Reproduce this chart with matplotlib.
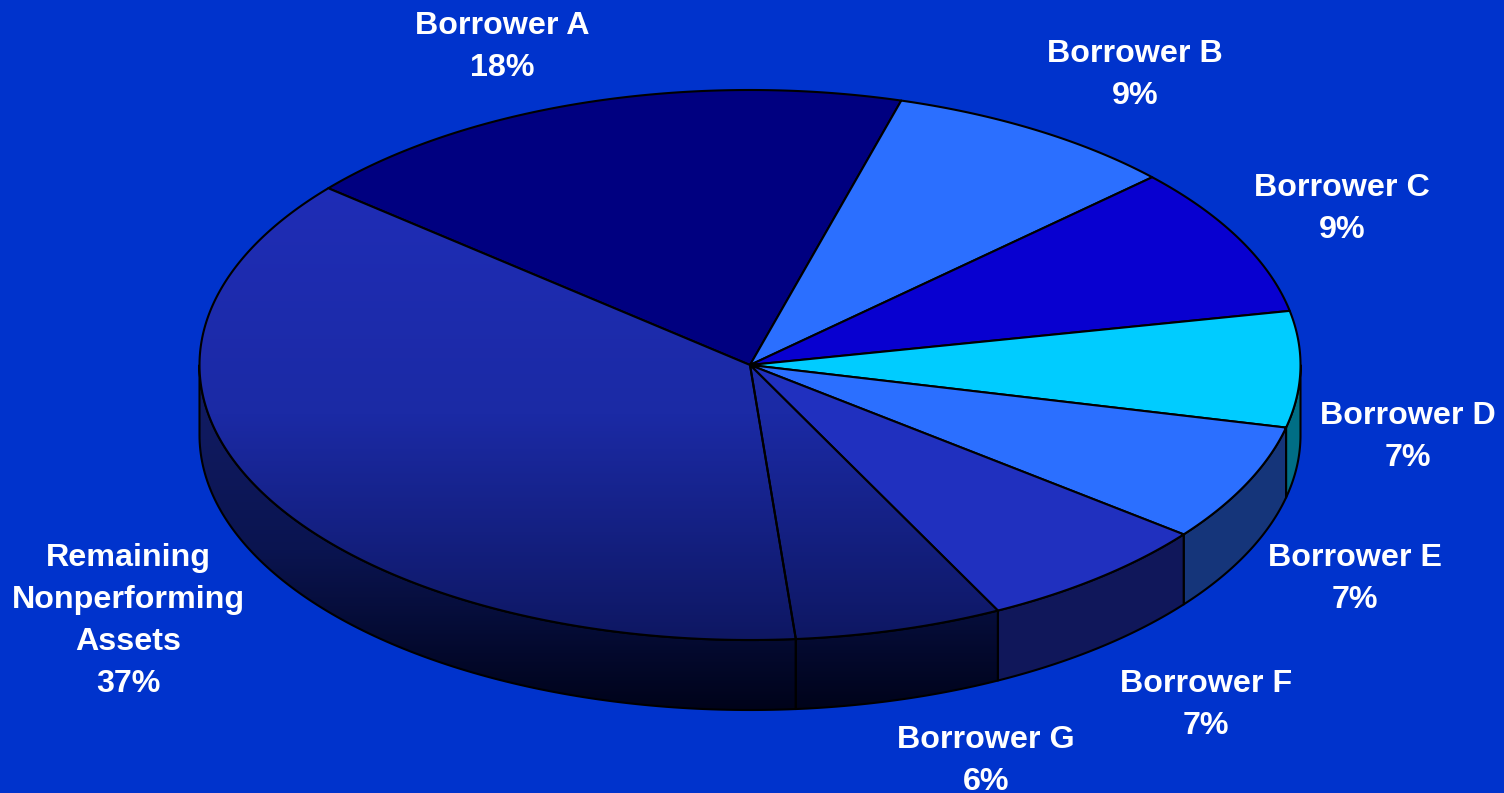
import numpy as np
import matplotlib
matplotlib.use("Agg")
import matplotlib.pyplot as plt
from matplotlib.colors import LinearSegmentedColormap
from matplotlib.patches import Polygon

# Share of nonperforming assets by borrower, clockwise from the upper left
names = ["Borrower A", "Borrower B", "Borrower C", "Borrower D",
         "Borrower E", "Borrower F", "Borrower G",
         "Remaining\nNonperforming\nAssets"]
shares = [18.3, 8.6, 8.8, 6.8, 6.9, 7.0, 6.1, 37.4]

top_colors = ["#000080", "#2B6FFF", "#0800D0", "#00CCFF",
              "#2B6FFF", "#2030BF", None, None]
side_colors = ["#000040", "#153880", "#040068", "#006E85",
               "#15357A", "#10175A", None, None]

# Label centres in pixels
label_x = [502, 1135, 1342, 1408, 1355, 1206, 986, 128]
label_y = [47, 75, 209, 437, 579, 705, 761, 621]

BG = "#0033CC"
EDGE = "black"
CX, CY, RX, RY, DEPTH = 750, 365, 550.5, 275, 70
START_DEG = -50.0

top_ramp = LinearSegmentedColormap.from_list("top", ["#1F2DB6", "#1B2AA5", "#0E1762"])
side_ramp = LinearSegmentedColormap.from_list("side", ["#121C64", "#0A1450", "#00031A"])


def rim(theta_deg, drop=0.0):
    t = np.radians(theta_deg)
    return np.column_stack([CX + RX * np.sin(t), CY - RY * np.cos(t) + drop])


def fill(ax, verts, color, ramp, y0, y1, z):
    """Outline a polygon and paint it flat or with a vertical ramp."""
    if color is not None:
        ax.add_patch(Polygon(verts, closed=True, facecolor=color, edgecolor=EDGE,
                             linewidth=1.5, joinstyle="round", zorder=z))
        return
    shade = ax.imshow(np.linspace(0, 1, 256)[:, None], cmap=ramp, aspect="auto",
                      extent=(0, 1504, y1, y0), zorder=z, vmin=0, vmax=1)
    clip = Polygon(verts, closed=True, transform=ax.transData)
    shade.set_clip_path(clip)
    ax.add_patch(Polygon(verts, closed=True, facecolor="none", edgecolor=EDGE,
                         linewidth=1.5, joinstyle="round", zorder=z + 0.1))


fig = plt.figure(figsize=(15.04, 7.93), dpi=100, facecolor=BG)
ax = fig.add_axes([0, 0, 1, 1])
ax.set_facecolor(BG)
ax.axis("off")

edges = START_DEG + np.concatenate([[0], np.cumsum(shares)]) * 360 / sum(shares)

for i in range(len(shares)):
    a, b = edges[i], edges[i + 1]

    # Only the front half of the rim faces the viewer
    lo, hi = max(a, 90), min(b, 270)
    if lo < hi:
        arc = np.linspace(lo, hi, 120)
        wall = np.vstack([rim(arc), rim(arc[::-1], DEPTH)])
        fill(ax, wall, side_colors[i], side_ramp, 390, 710, 2)

    # Top face of the wedge
    arc = np.linspace(a, b, 240)
    wedge = np.vstack([[[CX, CY]], rim(arc)])
    fill(ax, wedge, top_colors[i], top_ramp, 188, 640, 3)

    share_text = f"{names[i]}\n{round(shares[i])}%"
    ax.text(label_x[i], label_y[i], share_text, color="white", fontsize=23.2,
            fontweight="bold", family="Liberation Sans", ha="center", va="center",
            linespacing=1.51, zorder=5)

ax.set_xlim(0, 1504)
ax.set_ylim(793, 0)
fig.savefig("out.png", dpi=100, facecolor=BG)
